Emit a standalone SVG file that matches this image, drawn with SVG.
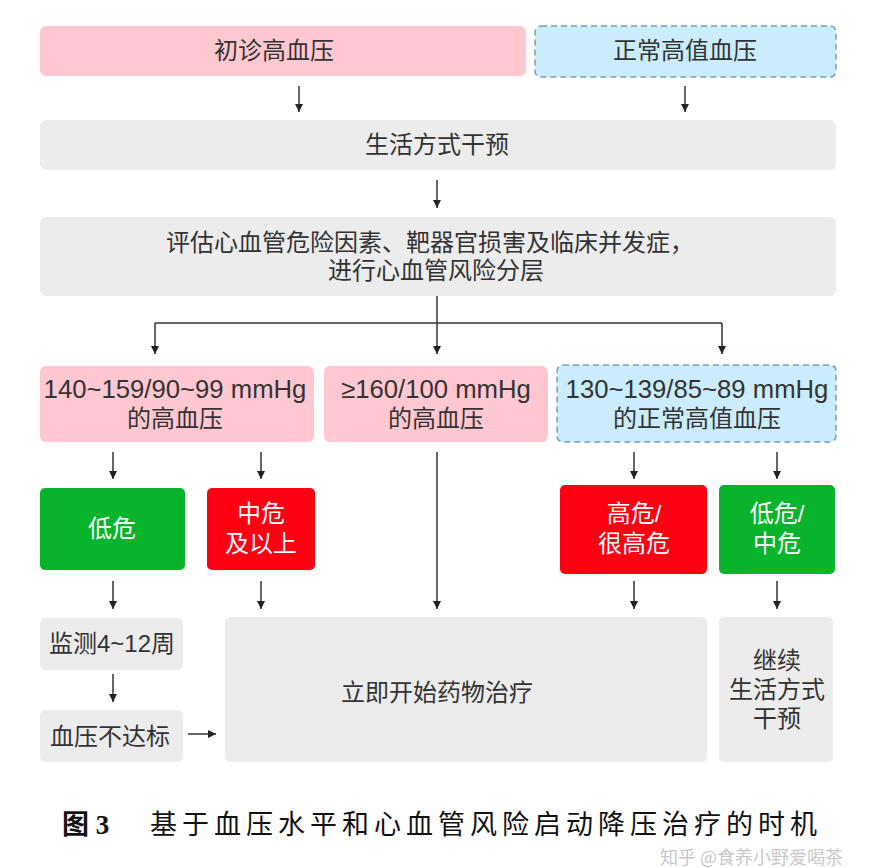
<svg xmlns="http://www.w3.org/2000/svg" width="886" height="868" viewBox="0 0 886 868">
<style>
.t{font-family:"Liberation Sans","Noto Sans CJK SC",sans-serif;font-size:24px;fill:#333;text-anchor:middle}
.s{text-anchor:start}
.n{font-size:25.7px}
.w{fill:#fff}
.pink{fill:#ffc7d0}
.blue{fill:#cbedfb;stroke:#7b9cc2;stroke-width:1.5;stroke-dasharray:6 4}
.gray{fill:#ececec}
.green{fill:#08b42c}
.red{fill:#ff0012}
.c{stroke:#333;stroke-width:1.5;fill:none}
.cap{font-family:"Liberation Serif","Noto Sans CJK SC",serif;font-size:27px;fill:#111}
</style>
<defs>
<marker id="ah" markerWidth="10" markerHeight="10" refX="9" refY="5" orient="auto" markerUnits="userSpaceOnUse">
<path d="M1,1 L9,5 L1,9 z" fill="#222"/>
</marker>
</defs>
<rect width="886" height="868" fill="#fff"/>

<g id="n1"><rect class="pink" x="40" y="26" width="486" height="50" rx="6"/><text class="t" x="274" y="59">初诊高血压</text></g>
<g id="n2"><rect class="blue" x="535" y="26" width="301" height="51" rx="6"/><text class="t" x="685" y="59">正常高值血压</text></g>
<g id="n3"><rect class="gray" x="40" y="120" width="796" height="50" rx="6"/><text class="t" x="437" y="153">生活方式干预</text></g>
<g id="n4"><rect class="gray" x="40" y="217" width="796" height="79" rx="6"/><text class="t s" x="166" y="251">评估心血管危险因素、靶器官损害及临床并发症，</text><text class="t" x="436" y="279">进行心血管风险分层</text></g>
<g id="n5"><rect class="pink" x="40" y="366" width="274" height="76" rx="6"/><text class="t n" x="175" y="398">140~159/90~99 mmHg</text><text class="t" x="175" y="427">的高血压</text></g>
<g id="n6"><rect class="pink" x="324" y="366" width="224" height="76" rx="6"/><text class="t n" x="436" y="398">≥160/100 mmHg</text><text class="t" x="436" y="427">的高血压</text></g>
<g id="n7"><rect class="blue" x="557" y="365" width="279" height="77" rx="6"/><text class="t n" x="697" y="398">130~139/85~89 mmHg</text><text class="t" x="697" y="427">的正常高值血压</text></g>
<g id="n8"><rect class="green" x="40" y="488" width="145" height="82" rx="5"/><text class="t w" x="112" y="537">低危</text></g>
<g id="n9"><rect class="red" x="207" y="488" width="108" height="82" rx="5"/><text class="t w" x="261" y="522">中危</text><text class="t w" x="261" y="552">及以上</text></g>
<g id="n10"><rect class="red" x="560" y="485" width="147" height="89" rx="5"/><text class="t w" x="634" y="522">高危/</text><text class="t w" x="634" y="552">很高危</text></g>
<g id="n11"><rect class="green" x="719" y="485" width="116" height="89" rx="5"/><text class="t w" x="777" y="522">低危/</text><text class="t w" x="777" y="552">中危</text></g>
<g id="n12"><rect class="gray" x="40" y="618" width="143" height="52" rx="5"/><text class="t" x="112" y="652">监测4~12周</text></g>
<g id="n13"><rect class="gray" x="40" y="710" width="143" height="52" rx="5"/><text class="t" x="110" y="745">血压不达标</text></g>
<g id="n14"><rect class="gray" x="225" y="617" width="482" height="145" rx="5"/><text class="t" x="437" y="701">立即开始药物治疗</text></g>
<g id="n15"><rect class="gray" x="719" y="617" width="114" height="145" rx="5"/><text class="t" x="777" y="669">继续</text><text class="t" x="777" y="698">生活方式</text><text class="t" x="777" y="727">干预</text></g>

<g id="connectors" class="c">
<path d="M299,86 V112" marker-end="url(#ah)"/>
<path d="M685,86 V112" marker-end="url(#ah)"/>
<path d="M437,180 V208" marker-end="url(#ah)"/>
<path d="M437,296 V354" marker-end="url(#ah)"/>
<path d="M155,323 H722"/>
<path d="M155,323 V354" marker-end="url(#ah)"/>
<path d="M722,323 V354" marker-end="url(#ah)"/>
<path d="M113,452 V479" marker-end="url(#ah)"/>
<path d="M261,452 V479" marker-end="url(#ah)"/>
<path d="M634,452 V479" marker-end="url(#ah)"/>
<path d="M777,452 V479" marker-end="url(#ah)"/>
<path d="M437,452 V609" marker-end="url(#ah)"/>
<path d="M113,581 V609" marker-end="url(#ah)"/>
<path d="M261,581 V609" marker-end="url(#ah)"/>
<path d="M634,581 V609" marker-end="url(#ah)"/>
<path d="M777,581 V609" marker-end="url(#ah)"/>
<path d="M113,674 V702" marker-end="url(#ah)"/>
<path d="M188,734 H216" marker-end="url(#ah)"/>
</g>

<text class="cap" x="62" y="834" font-weight="bold">图 3</text>
<text class="cap" x="150" y="834" letter-spacing="5">基于血压水平和心血管风险启动降压治疗的时机</text>
<text x="660" y="864" font-family="'Noto Sans CJK SC',sans-serif" font-size="18" fill="#bbb" opacity="0.8">知乎 @食养小野爱喝茶</text>
</svg>
